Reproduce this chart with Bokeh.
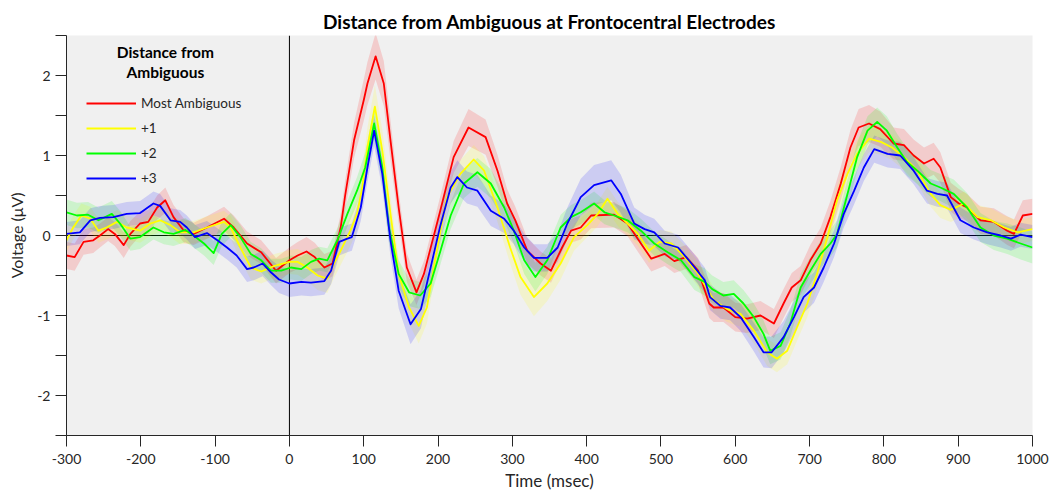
import numpy as np
from bokeh.plotting import figure
from bokeh.models import Span, Legend, LegendItem, Label, FixedTicker, Range1d
from bokeh.embed import file_html
from bokeh.resources import INLINE

# ---------------- data ----------------
red_t = [-300,-289,-277,-264,-255,-244,-235,-223,-214,-201,
         -190,-178,-167,-156,-142, -129,-111,-88,-75,-57, -38,-18,0,11,23, 34,47,58,69,75,
         87,100,105,116,127, 136,147,158,171,181, 203,221,241,264,280, 293,304,320,338,352,
         367,379,392,406,437, 455,473,487,505,518, 534,550,565,571,584, 600,616,634,652,665,
         676,688,701,715,728, 742,755,766,780,795, 813,827,840,854,867, 876,890,901,912,930,
         948,966,975,987,1000]
red_v = [-0.25,-0.27,-0.08,-0.06,0.0,0.08,0.02,-0.12,0.02,0.15,
         0.17,0.35,0.44,0.23,0.06, 0.02,0.1,0.21,0.1,-0.1, -0.21,-0.44,-0.31,-0.25,-0.2,
         -0.27,-0.4,-0.35,0.1,0.5, 1.19,1.69,1.9,2.24,1.9, 1.19,0.35,-0.4,-0.71,-0.48,
         0.31,0.98,1.35,1.23,0.81, 0.4,0.19,-0.19,-0.35,-0.44, -0.15,0.06,0.1,0.25,0.26,
         0.15,-0.1,-0.29,-0.23,-0.32, -0.27,-0.44,-0.85,-0.9,-0.9, -1.02,-1.04,-1.0,-1.1,-0.85,
         -0.65,-0.56,-0.31,-0.1,0.23, 0.65,1.1,1.35,1.4,1.33, 1.15,1.13,1.0,0.9,0.96,
         0.85,0.48,0.4,0.35,0.19, 0.17,0.06,0.02,0.25,0.27]
red_e = [0.17,0.17,0.16,0.16,0.15,0.15,0.15,0.16,0.16,0.15,
         0.15,0.15,0.16,0.15,0.15, 0.14,0.14,0.15,0.15,0.15, 0.15,0.16,0.16,0.17,0.18,
         0.18,0.17,0.16,0.17,0.19, 0.22,0.26,0.27,0.29,0.28, 0.25,0.2,0.18,0.16,0.16,
         0.18,0.2,0.23,0.22,0.2, 0.18,0.17,0.16,0.15,0.15, 0.15,0.15,0.15,0.16,0.16,
         0.16,0.16,0.16,0.15,0.15, 0.15,0.16,0.18,0.18,0.18, 0.18,0.18,0.18,0.18,0.18,
         0.18,0.18,0.19,0.2,0.2, 0.21,0.22,0.23,0.23,0.22, 0.2,0.2,0.2,0.2,0.2,
         0.19,0.18,0.18,0.17,0.17, 0.17,0.18,0.18,0.19,0.19]

yel_t = [-300,-291,-280,-268,-257, -246,-232,-219,-201,-187, -174,-160,-147,-129,-111,
         -88,-79,-66,-52,-38, -20,0,11,24,38, 51,60,69,82,91, 98,105,115,125,136,
         147,161,174,185,199, 212,230,248,262,280, 297,311,329,347,365, 383,401,415,428,442,
         455,469,484,498,514, 532,550,571,589,607, 625,643,656,670,683, 697,710,724,737,751,
         764,780,796,811,827, 845,863,876,890,908, 926,944,962,980,1000]
yel_v = [-0.06,0.1,0.25,0.21,0.06, 0.1,0.17,0.1,0.06,0.15, 0.19,0.13,0.04,0.04,0.1,
         0.17,0.1,-0.15,-0.4,-0.45, -0.38,-0.33,-0.33,-0.4,-0.5, -0.54,-0.35,-0.19,0.06,0.27,
         0.6,1.1,1.61,1.06,0.27, -0.48,-0.9,-1.13,-0.9,-0.15, 0.48,0.77,0.95,0.81,0.35,
         -0.15,-0.52,-0.77,-0.6,-0.35, -0.02,0.13,0.27,0.46,0.27, 0.15,0.02,-0.19,-0.08,-0.1,
         -0.27,-0.48,-0.81,-0.92,-0.98, -1.19,-1.46,-1.54,-1.44,-1.15, -0.85,-0.48,-0.02,0.44,0.77,
         1.02,1.21,1.17,1.1,0.98, 0.81,0.52,0.38,0.32,0.4, 0.23,0.19,0.1,0.04,0.08]
yel_e = [0.15,0.15,0.15,0.15,0.15, 0.15,0.15,0.15,0.15,0.15, 0.15,0.15,0.15,0.14,0.14,
         0.14,0.14,0.15,0.15,0.15, 0.15,0.15,0.16,0.17,0.18, 0.18,0.18,0.18,0.19,0.2,
         0.22,0.25,0.27,0.26,0.22, 0.18,0.2,0.22,0.2,0.17, 0.16,0.17,0.18,0.18,0.18,
         0.2,0.22,0.24,0.22,0.2, 0.17,0.15,0.15,0.15,0.15, 0.15,0.15,0.15,0.15,0.15,
         0.15,0.16,0.16,0.16,0.16, 0.16,0.17,0.17,0.17,0.17, 0.17,0.18,0.18,0.18,0.18,
         0.18,0.17,0.16,0.16,0.16, 0.16,0.16,0.16,0.15,0.15, 0.15,0.15,0.15,0.15,0.15]

grn_t = [-300,-286,-271,-257,-239, -228,-214,-201,-183,-169, -156,-140,-129,-115,-102,
         -91,-79,-66,-52,-38, -25,-11,2,16,29, 40,51,65,78,91, 102,114,125,134,147,
         161,176,190,203,217, 235,253,271,289,302, 316,331,347,365,379, 392,410,424,437,455,
         473,491,509,527,545, 559,569,584,598,611, 625,638,647,661,674, 688,701,715,728,737,
         751,764,778,791,804, 818,831,845,863,876, 894,912,930,948,966, 984,1000]
grn_v = [0.29,0.25,0.26,0.19,0.27, 0.15,-0.04,-0.02,0.1,0.04, 0.02,0.07,0.0,-0.1,-0.22,
         0.02,0.13,-0.02,-0.23,-0.31, -0.44,-0.44,-0.4,-0.42,-0.33, -0.29,-0.31,-0.05,0.27,0.56,
         0.85,1.4,0.85,0.1,-0.48, -0.71,-0.75,-0.6,-0.2,0.25, 0.65,0.79,0.65,0.35,0.06,
         -0.31,-0.52,-0.31,0.1,0.23, 0.29,0.4,0.29,0.25,0.19, 0.06,-0.1,-0.21,-0.31,-0.52,
         -0.58,-0.67,-0.75,-0.73,-0.85, -1.02,-1.23,-1.44,-1.38,-1.1, -0.65,-0.44,-0.23,-0.1,0.02,
         0.52,0.98,1.31,1.42,1.31, 1.1,0.92,0.81,0.65,0.6, 0.52,0.35,0.1,0.0,-0.04, -0.1,-0.15]
grn_e = [0.16,0.16,0.16,0.16,0.16, 0.16,0.15,0.15,0.15,0.15, 0.15,0.15,0.15,0.15,0.15,
         0.15,0.15,0.15,0.15,0.15, 0.15,0.15,0.15,0.15,0.15, 0.15,0.15,0.15,0.16,0.17,
         0.19,0.2,0.2,0.18,0.17, 0.17,0.17,0.17,0.17,0.17, 0.18,0.18,0.18,0.17,0.16,
         0.17,0.18,0.17,0.16,0.15, 0.15,0.15,0.15,0.15,0.15, 0.15,0.15,0.15,0.15,0.16,
         0.17,0.17,0.17,0.17,0.17, 0.17,0.17,0.17,0.17,0.17, 0.17,0.17,0.17,0.17,0.17,
         0.18,0.18,0.18,0.18,0.18, 0.17,0.17,0.17,0.17,0.17, 0.18,0.18,0.18,0.18,0.19, 0.2,0.2]

blu_t = [-300,-282,-268,-255,-237, -219,-201,-183,-174,-160, -147,-138,-127,-111,-97,
         -84,-71,-57,-48,-36, -25,-14,0,16,29, 47,56,67,78,84, 96,105,114,125,136,
         147,163,177,190,203, 217,226,239,253,271, 289,302,316,329,347, 361,374,392,410,433,
         446,464,478,491,505, 523,541,559,566,580, 593,607,625,638,649, 665,679,692,706,719,
         733,746,760,773,787, 805,822,840,858,872, 885,903,921,939,957, 971,984,1000]
blu_v = [0.02,0.04,0.19,0.22,0.23, 0.27,0.28,0.4,0.37,0.19, 0.17,0.1,-0.02,0.03,-0.06,
         -0.15,-0.25,-0.42,-0.4,-0.35, -0.46,-0.55,-0.6,-0.58,-0.59, -0.57,-0.44,-0.08,-0.04,-0.02,
         0.35,0.85,1.31,0.77,-0.06, -0.69,-1.11,-0.92,-0.4,0.12, 0.6,0.73,0.6,0.56,0.31,
         0.21,0.06,-0.15,-0.28,-0.28, -0.15,0.15,0.48,0.63,0.69, 0.52,0.15,0.08,0.04,-0.1,
         -0.15,-0.35,-0.56,-0.77,-0.88, -0.9,-1.02,-1.27,-1.46,-1.46, -1.27,-1.02,-0.77,-0.65,-0.4,
         -0.1,0.27,0.56,0.85,1.08, 1.02,1.0,0.81,0.56,0.52, 0.5,0.19,0.1,0.04,0.0, -0.04,0.01,-0.02]
blu_e = [0.15,0.15,0.15,0.15,0.15, 0.15,0.15,0.15,0.15,0.15, 0.15,0.15,0.15,0.15,0.15,
         0.15,0.15,0.16,0.16,0.16, 0.16,0.17,0.17,0.17,0.17, 0.17,0.17,0.17,0.17,0.17,
         0.17,0.18,0.19,0.19,0.2, 0.22,0.25,0.24,0.2,0.19, 0.2,0.21,0.2,0.2,0.19,
         0.18,0.17,0.17,0.17,0.17, 0.18,0.2,0.23,0.25,0.25, 0.24,0.2,0.18,0.17,0.16,
         0.16,0.16,0.16,0.16,0.16, 0.16,0.17,0.18,0.19,0.2, 0.2,0.2,0.2,0.19,0.18,
         0.17,0.17,0.17,0.17,0.17, 0.17,0.17,0.17,0.16,0.16, 0.16,0.16,0.15,0.15,0.15, 0.15,0.15,0.15]

series_names = ["Most Ambiguous", "+1", "+2", "+3"]
series_colors = ["#ff0000", "#ffff00", "#00ff00", "#0000ff"]
x_ticks = [-300, -200, -100, 0, 100, 200, 300, 400, 500, 600, 700, 800, 900, 1000]
y_ticks = [-2, -1, 0, 1, 2]
y_minor_ticks = [-2.5, -1.5, -0.5, 0.5, 1.5, 2.5]

series = [(red_t, red_v, red_e), (yel_t, yel_v, yel_e), (grn_t, grn_v, grn_e), (blu_t, blu_v, blu_e)]
for name, (t, v, e) in zip(series_names, series):
    if not (len(t) == len(v) == len(e)):
        raise ValueError(f"{name}: {len(t)} {len(v)} {len(e)}")

FONT = "Lato"
TXT = "#262626"

p = figure(width=1050, height=495, output_backend="svg", toolbar_location=None,
           x_range=Range1d(-300, 1000), y_range=Range1d(-2.5, 2.5),
           min_border_left=66, min_border_right=18, min_border_top=35, min_border_bottom=60)
p.background_fill_color = "#f0f0f0"
p.border_fill_color = "white"
p.outline_line_color = None
p.grid.visible = False

p.title.text = "Distance from Ambiguous at Frontocentral Electrodes"
p.title.align = "center"
p.title.text_font = FONT
p.title.text_font_size = "19px"
p.title.text_font_style = "bold"
p.title.text_color = "black"
p.title.standoff = 6

for ax in (p.xaxis[0], p.yaxis[0]):
    ax.major_tick_in = 0
    ax.major_tick_out = 11
    ax.minor_tick_in = 0
    ax.minor_tick_out = 11
    ax.axis_line_color = TXT
    ax.major_tick_line_color = TXT
    ax.minor_tick_line_color = TXT
    ax.major_label_text_font = FONT
    ax.major_label_text_font_size = "14px"
    ax.major_label_text_color = TXT
    ax.axis_label_text_font = FONT
    ax.axis_label_text_font_style = "normal"
    ax.axis_label_text_color = TXT

p.xaxis.ticker = FixedTicker(ticks=x_ticks)
p.yaxis.ticker = FixedTicker(ticks=y_ticks, minor_ticks=y_minor_ticks)
p.xaxis.major_label_overrides = {t: str(t) for t in x_ticks}
p.yaxis.major_label_overrides = {t: str(t) for t in y_ticks}
p.xaxis.axis_label = "Time (msec)"
p.yaxis.axis_label = "Voltage (\u03bcV)"
p.xaxis.axis_label_text_font_size = "17px"
p.yaxis.axis_label_text_font_size = "16px"
p.xaxis.major_label_standoff = 7
p.yaxis.major_label_standoff = 5
p.xaxis.axis_label_standoff = 3
p.yaxis.axis_label_standoff = 8

p.add_layout(Span(location=0, dimension="width", line_color="black", line_width=1, level="underlay"))
p.add_layout(Span(location=0, dimension="height", line_color="black", line_width=1, level="underlay"))

for (t, v, e), c in zip(series, series_colors):
    t = np.array(t, float); v = np.array(v, float); e = np.array(e, float)
    p.varea(x=t, y1=v - e, y2=v + e, fill_color=c, fill_alpha=0.15)

items = []
for (t, v, e), c, name in zip(series, series_colors, series_names):
    r = p.line(t, v, line_color=c, line_width=1.8, line_join="round")
    items.append(LegendItem(label=name, renderers=[r]))

leg = Legend(items=items, location=(20, 247), orientation="vertical")
leg.background_fill_alpha = 0
leg.border_line_color = None
leg.padding = 0
leg.margin = 0
leg.spacing = 5
leg.glyph_width = 50
leg.glyph_height = 20
leg.label_height = 20
leg.label_standoff = 5
leg.label_text_font = FONT
leg.label_text_font_size = "13.5px"
leg.label_text_color = TXT
p.add_layout(leg)

for txt, yy in (("Distance from", 2.29), ("Ambiguous", 2.04)):
    p.add_layout(Label(x=-167, y=yy, text=txt, text_align="center", text_baseline="middle",
                       text_font=FONT, text_font_size="15.5px", text_font_style="bold",
                       text_color="black"))

open("out.html", "w").write(file_html(p, INLINE))
